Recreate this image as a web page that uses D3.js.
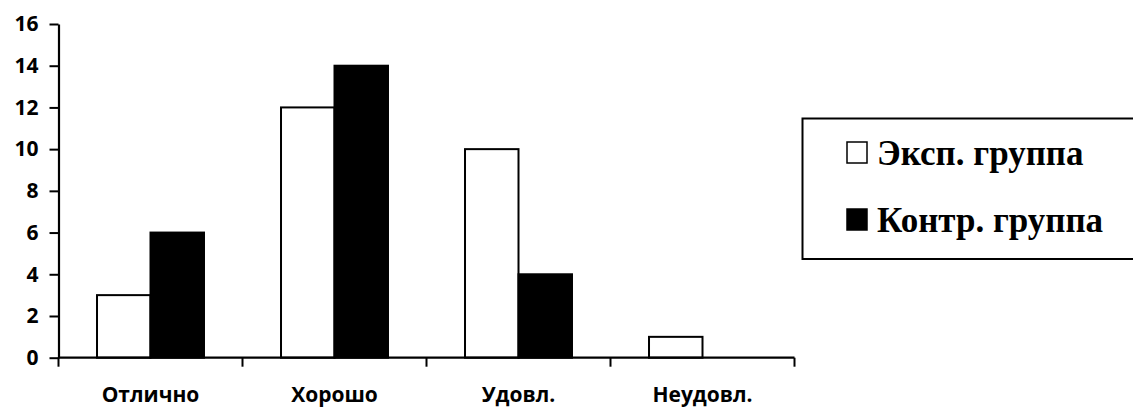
<!DOCTYPE html>
<html><head><meta charset="utf-8">
<script src="https://cdn.jsdelivr.net/npm/d3@7"></script>
<style>body{margin:0;background:#fff}svg{display:block}</style>
</head><body>
<svg id="c" width="1133" height="408"></svg>
<script>
const categories = ["Отлично", "Хорошо", "Удовл.", "Неудовл."];
const seriesNames = ["Эксп. группа", "Контр. группа"];
const expValues = [3, 12, 10, 1];
const ctrValues = [6, 14, 4, 0];
const yTicks = [0, 2, 4, 6, 8, 10, 12, 14, 16];
const seriesFill = ["#ffffff", "#000000"];

(function () {
const svg = d3.select("#c");
const mLeft = 58.5, mRight = 794.5, mTop = 24, mBottom = 357.7;
const x = d3.scaleBand().domain(categories).range([mLeft, mRight]).padding(0);
const xs = d3.scaleBand().domain(seriesNames).range([0, x.bandwidth()]).paddingInner(0).paddingOuter(0.72);
const y = d3.scaleLinear().domain([0, 16]).range([mBottom, mTop]);

const data = categories.map((c, i) => ({c, vals: [expValues[i], ctrValues[i]]}));

// bars
const g = svg.append("g");
data.forEach(d => {
  d.vals.forEach((v, si) => {
    if (v <= 0) return;
    g.append("rect")
      .attr("x", x(d.c) + xs(seriesNames[si]))
      .attr("y", y(v))
      .attr("width", xs.bandwidth())
      .attr("height", y(0) - y(v))
      .attr("fill", seriesFill[si])
      .attr("stroke", "#000")
      .attr("stroke-width", 2);
  });
});

// y axis
const yAxis = d3.axisLeft(y).tickValues(yTicks).tickSize(9).tickPadding(11).tickSizeOuter(0);
const ya = svg.append("g").attr("transform", `translate(${mLeft},0)`).call(yAxis);
ya.select(".domain").attr("stroke-width", 2.2);
ya.selectAll(".tick line").attr("stroke-width", 2);
ya.selectAll("text").attr("font-family", "'Open Sans', sans-serif").attr("font-weight", "bold").attr("font-size", 21).attr("fill", "#000");

// x axis
const xa = svg.append("g").attr("transform", `translate(0,${mBottom})`);
xa.append("line").attr("x1", mLeft).attr("x2", mRight).attr("y1", 0).attr("y2", 0).attr("stroke", "#000").attr("stroke-width", 2.2);
const xTickPos = categories.map(c => x(c)).concat([mRight]);
xa.selectAll("line.t").data(xTickPos).enter().append("line").attr("class", "t")
  .attr("x1", d => d).attr("x2", d => d).attr("y1", 0).attr("y2", 9).attr("stroke", "#000").attr("stroke-width", 2);
xa.selectAll("text").data(categories).enter().append("text")
  .attr("x", d => x(d) + x.bandwidth() / 2).attr("y", 44.3)
  .attr("text-anchor", "middle")
  .attr("font-family", "'Open Sans', sans-serif").attr("font-weight", "bold").attr("font-size", 21)
  .text(d => d);

// legend
const lg = svg.append("g");
lg.append("rect").attr("x", 802.5).attr("y", 118.5).attr("width", 360).attr("height", 140.5)
  .attr("fill", "#fff").attr("stroke", "#000").attr("stroke-width", 2);
seriesNames.forEach((s, i) => {
  const yy = 142 + i * 67;
  lg.append("rect").attr("x", 847).attr("y", yy).attr("width", 20).attr("height", 21)
    .attr("fill", seriesFill[i]).attr("stroke", "#000").attr("stroke-width", 1.5);
  lg.append("text").attr("x", 877).attr("y", yy + 23)
    .attr("font-family", "'Liberation Serif', 'Times New Roman', serif").attr("font-weight", "bold").attr("font-size", 35)
    .text(s);
});
})();
</script>
</body></html>
